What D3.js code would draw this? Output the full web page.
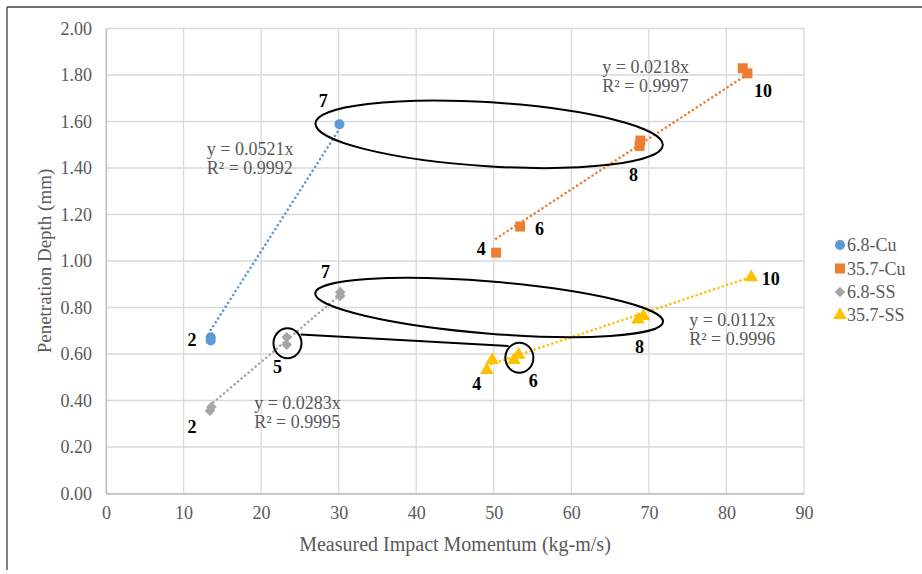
<!DOCTYPE html>
<html>
<head>
<meta charset="utf-8">
<script src="https://cdn.jsdelivr.net/npm/d3@7"></script>
<style>
  html, body { margin: 0; padding: 0; background: #fff; }
  svg { display: block; }
  text { font-family: "Liberation Serif", "Times New Roman", serif; }
</style>
</head>
<body>
<svg id="chart" width="922" height="574"></svg>
<script>
// Square diamond (a square turned 45 degrees)
const symbolSquareDiamond = {
  draw(context, size) {
    const r = Math.sqrt(size / 2);
    context.moveTo(0, -r);
    context.lineTo(r, 0);
    context.lineTo(0, r);
    context.lineTo(-r, 0);
    context.closePath();
  }
};

// Series names, colours and marker shapes
const seriesNames = ["6.8-Cu", "35.7-Cu", "6.8-SS", "35.7-SS"];
const seriesColors = ["#5B9BD5", "#ED7D31", "#A5A5A5", "#FFC000"];
const seriesSymbols = [d3.symbolCircle, d3.symbolSquare, symbolSquareDiamond, d3.symbolTriangle];

// Measured impact momentum (kg-m/s) and penetration depth (mm) per series
const cu68X  = [13.5, 13.5, 30.1];
const cu68Y  = [0.658, 0.672, 1.588];
const cu357X = [50.3, 53.4, 68.8, 68.9, 82.1, 82.7];
const cu357Y = [1.036, 1.148, 1.495, 1.518, 1.829, 1.807];
const ss68X  = [13.4, 13.6, 23.3, 23.3, 30.2, 30.2];
const ss68Y  = [0.356, 0.372, 0.640, 0.672, 0.850, 0.866];
const ss357X = [49.1, 49.8, 52.6, 53.2, 68.6, 69.3, 83.2];
const ss357Y = [0.531, 0.574, 0.574, 0.596, 0.748, 0.763, 0.930];

// Linear trendlines through the origin
const trendSlopes = [0.0521, 0.0218, 0.0283, 0.0112];
const trendR2 = [0.9992, 0.9997, 0.9995, 0.9996];
const eqLabelX = [13.0, 64.0, 19.1, 75.2];
const eqLabelY = [1.482, 1.833, 0.391, 0.748];

// Run-number labels beside the points
const runLabels   = ["7", "2", "7", "5", "2", "4", "6", "8", "10", "4", "6", "8", "10"];
const runLabelX   = [28.0, 11.1, 28.3, 22.1, 11.1, 48.4, 55.9, 68.0, 84.7, 47.8, 55.1, 68.8, 85.7];
const runLabelY   = [1.689, 0.660, 0.954, 0.543, 0.287, 1.050, 1.136, 1.370, 1.731, 0.471, 0.484, 0.632, 0.923];

// Axis ticks
const xTicks = [0, 10, 20, 30, 40, 50, 60, 70, 80, 90];
const yTicks = [0, 0.2, 0.4, 0.6, 0.8, 1.0, 1.2, 1.4, 1.6, 1.8, 2.0];

// Highlight annotations: ellipses (centre in data units), circles and a connector
const ellipseCX = [49.4, 49.4];
const ellipseCY = [1.545, 0.800];
const ellipseRX = [174, 174.5];
const ellipseRY = [32, 26];
const ellipseTilt = [3.6, 4.7];
const circleCX = [23.4, 53.3];
const circleCY = [0.646, 0.584];
const connectorX = [25.1, 51.9];
const connectorY = [0.684, 0.634];

const seriesX = [cu68X, cu357X, ss68X, ss357X];
const seriesY = [cu68Y, cu357Y, ss68Y, ss357Y];

const svg = d3.select("#chart");
const margin = { left: 106, right: 804, top: 28.5, bottom: 493.5 };

const x = d3.scaleLinear().domain([0, 90]).range([margin.left, margin.right]);
const y = d3.scaleLinear().domain([0, 2]).range([margin.bottom, margin.top]);

// Chart frame edges
svg.append("line").attr("x1", 7).attr("x2", 922).attr("y1", 7).attr("y2", 7)
  .attr("stroke", "#3f3f3f").attr("stroke-width", 1.3);
svg.append("line").attr("x1", 7).attr("x2", 7).attr("y1", 7).attr("y2", 570)
  .attr("stroke", "#3f3f3f").attr("stroke-width", 1.3);

// Gridlines
const grid = svg.append("g");
grid.selectAll("line.h").data(yTicks).join("line")
  .attr("class", "h")
  .attr("x1", margin.left).attr("x2", margin.right)
  .attr("y1", d => y(d)).attr("y2", d => y(d))
  .attr("stroke", "#d9d9d9").attr("stroke-width", 1.3);
grid.selectAll("line.v").data(xTicks).join("line")
  .attr("class", "v")
  .attr("y1", margin.top).attr("y2", margin.bottom)
  .attr("x1", d => x(d)).attr("x2", d => x(d))
  .attr("stroke", "#d9d9d9").attr("stroke-width", 1.3);

// Axes
const xAxis = svg.append("g").attr("transform", `translate(0,${margin.bottom})`)
  .call(d3.axisBottom(x).tickValues(xTicks).tickSize(0).tickPadding(13).tickFormat(d3.format("d")));
const yAxis = svg.append("g").attr("transform", `translate(${margin.left},0)`)
  .call(d3.axisLeft(y).tickValues(yTicks).tickSize(0).tickPadding(14).tickFormat(d3.format(".2f")));
[xAxis, yAxis].forEach(a => {
  a.select(".domain").attr("stroke", "#bfbfbf").attr("stroke-width", 1.3);
  a.selectAll("text").attr("fill", "#595959").attr("font-size", 18);
});

// Axis titles
svg.append("text")
  .attr("x", (margin.left + margin.right) / 2).attr("y", 551)
  .attr("text-anchor", "middle").attr("fill", "#595959").attr("font-size", 20)
  .text("Measured Impact Momentum (kg-m/s)");
svg.append("text")
  .attr("transform", `translate(51,${(margin.top + margin.bottom) / 2}) rotate(-90)`)
  .attr("text-anchor", "middle").attr("fill", "#595959").attr("font-size", 19)
  .text("Penetration Depth (mm)");

// Trendlines
seriesNames.forEach((name, i) => {
  const [x0, x1] = d3.extent(seriesX[i]);
  svg.append("line")
    .attr("x1", x(x0)).attr("y1", y(trendSlopes[i] * x0))
    .attr("x2", x(x1)).attr("y2", y(trendSlopes[i] * x1))
    .attr("stroke", seriesColors[i]).attr("stroke-width", 2.6)
    .attr("stroke-linecap", "round").attr("stroke-dasharray", "0.01,4.6");
});

// Markers
const symbolSize = [80, 100, 56, 80];
seriesNames.forEach((name, i) => {
  const pts = seriesX[i].map((v, j) => [v, seriesY[i][j]]);
  svg.append("g").selectAll("path").data(pts).join("path")
    .attr("transform", d => `translate(${x(d[0])},${y(d[1])})`)
    .attr("d", d3.symbol().type(seriesSymbols[i]).size(symbolSize[i]))
    .attr("fill", seriesColors[i]);
});

// Trendline equations
seriesNames.forEach((name, i) => {
  const t = svg.append("text")
    .attr("x", x(eqLabelX[i])).attr("y", y(eqLabelY[i]))
    .attr("fill", "#595959").attr("font-size", 18)
    .attr("dominant-baseline", "central");
  t.append("tspan").attr("x", x(eqLabelX[i])).text(`y = ${trendSlopes[i]}x`);
  t.append("tspan").attr("x", x(eqLabelX[i])).attr("dy", 19)
    .text(`R² = ${trendR2[i].toFixed(4)}`);
});

// Highlight ellipses
ellipseCX.forEach((cx, i) => {
  svg.append("ellipse")
    .attr("transform", `translate(${x(cx)},${y(ellipseCY[i])}) rotate(${ellipseTilt[i]})`)
    .attr("rx", ellipseRX[i]).attr("ry", ellipseRY[i])
    .attr("fill", "none").attr("stroke", "#000").attr("stroke-width", 2);
});
circleCX.forEach((cx, i) => {
  svg.append("ellipse")
    .attr("cx", x(cx)).attr("cy", y(circleCY[i]))
    .attr("rx", 14).attr("ry", 15)
    .attr("fill", "none").attr("stroke", "#000").attr("stroke-width", 2);
});
svg.append("line")
  .attr("x1", x(connectorX[0])).attr("y1", y(connectorY[0]))
  .attr("x2", x(connectorX[1])).attr("y2", y(connectorY[1]))
  .attr("stroke", "#000").attr("stroke-width", 2);

// Run-number labels
svg.append("g").selectAll("text").data(runLabels).join("text")
  .attr("x", (d, i) => x(runLabelX[i])).attr("y", (d, i) => y(runLabelY[i]))
  .attr("text-anchor", "middle").attr("dominant-baseline", "central")
  .attr("font-weight", "bold").attr("font-size", 18).attr("fill", "#000")
  .text(d => d);

// Legend
const legendY = [245, 268.5, 292, 315];
const legend = svg.append("g");
seriesNames.forEach((name, i) => {
  legend.append("path")
    .attr("transform", `translate(840,${legendY[i]})`)
    .attr("d", d3.symbol().type(seriesSymbols[i]).size(symbolSize[i]))
    .attr("fill", seriesColors[i]);
  legend.append("text")
    .attr("x", 847).attr("y", legendY[i])
    .attr("dominant-baseline", "central")
    .attr("fill", "#595959").attr("font-size", 18)
    .text(name);
});
</script>
</body>
</html>
